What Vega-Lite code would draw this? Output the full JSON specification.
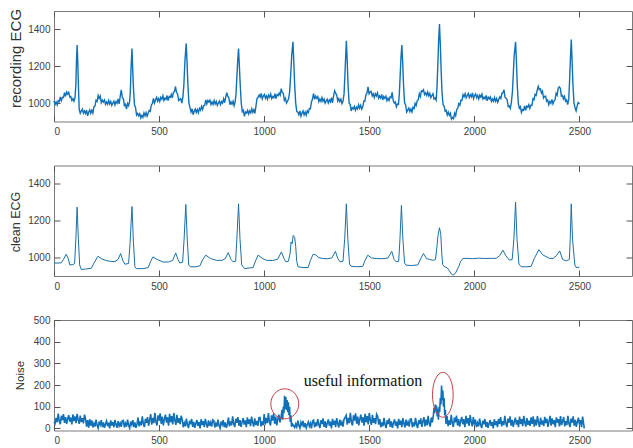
{
"$schema": "https://vega.github.io/schema/vega-lite/v6.json",
"padding": {"left": 7, "top": 7, "right": 0, "bottom": 0},
"background": "white",
"spacing": 43.5,
"bounds": "flush",
"config": {
  "view": {"stroke": "#7a7a7a", "strokeWidth": 1},
  "axis": {"domain": false, "grid": false, "tickSize": -6, "tickColor": "#555555", "tickWidth": 1, "format": "d",
    "labelFont": "Liberation Sans", "labelFontSize": 10, "labelColor": "#404040",
    "titleFont": "Liberation Sans", "titleColor": "#333333", "titleFontWeight": "normal"},
  "axisX": {"labelPadding": 11},
  "axisY": {"labelPadding": 10}
},
"datasets": {
"rec": [
{"x":0,"y":1012},{"x":5,"y":992},{"x":10,"y":1006},{"x":15,"y":990},{"x":20,"y":1013},{"x":25,"y":1008},{"x":30,"y":1033},{"x":35,"y":1013},{"x":40,"y":1031},{"x":45,"y":1030},{"x":50,"y":1057},{"x":55,"y":1036},{"x":60,"y":1060},{"x":65,"y":1049},{"x":70,"y":1058},{"x":75,"y":1033},{"x":80,"y":1036},{"x":85,"y":1014},{"x":90,"y":1024},{"x":95,"y":1010},{"x":100,"y":1029},
{"x":104,"y":1100},{"x":107,"y":1230},{"x":110,"y":1315},{"x":113,"y":1230},{"x":116,"y":1100},{"x":120,"y":965},
{"x":125,"y":945},{"x":130,"y":957},{"x":135,"y":967},{"x":140,"y":945},{"x":145,"y":957},{"x":150,"y":944},{"x":155,"y":962},{"x":160,"y":931},{"x":165,"y":950},{"x":170,"y":963},{"x":175,"y":945},{"x":180,"y":961},{"x":185,"y":946},{"x":190,"y":981},{"x":195,"y":984},{"x":200,"y":1015},{"x":205,"y":1009},{"x":210,"y":1041},{"x":215,"y":1025},{"x":220,"y":1038},{"x":225,"y":1002},{"x":230,"y":1016},{"x":235,"y":1006},{"x":240,"y":1017},{"x":245,"y":993},{"x":250,"y":1006},{"x":255,"y":994},{"x":260,"y":1014},{"x":265,"y":995},{"x":270,"y":1009},{"x":275,"y":987},{"x":280,"y":1000},{"x":285,"y":1011},{"x":290,"y":990},{"x":295,"y":1008},{"x":300,"y":999},{"x":305,"y":1023},{"x":310,"y":996},{"x":315,"y":1037},{"x":320,"y":1072},{"x":325,"y":1031},{"x":330,"y":1024},{"x":335,"y":986},{"x":340,"y":993},{"x":345,"y":967},{"x":350,"y":998},{"x":355,"y":986},{"x":360,"y":1011},
{"x":363,"y":1060},{"x":367,"y":1200},{"x":371,"y":1296},{"x":374,"y":1200},{"x":378,"y":1080},{"x":383,"y":990},
{"x":388,"y":975},{"x":393,"y":935},{"x":398,"y":944},{"x":403,"y":931},{"x":408,"y":942},{"x":413,"y":919},{"x":418,"y":933},{"x":423,"y":923},{"x":428,"y":947},{"x":433,"y":931},{"x":438,"y":948},{"x":443,"y":929},{"x":448,"y":945},{"x":453,"y":960},{"x":458,"y":955},{"x":463,"y":990},{"x":468,"y":997},{"x":473,"y":1026},{"x":478,"y":1000},{"x":483,"y":1018},{"x":488,"y":1031},{"x":493,"y":1011},{"x":498,"y":1025},{"x":503,"y":1008},{"x":508,"y":1031},{"x":513,"y":1021},{"x":518,"y":1040},{"x":523,"y":1014},{"x":528,"y":1027},{"x":533,"y":1020},{"x":538,"y":1041},{"x":543,"y":1014},{"x":548,"y":1036},{"x":553,"y":1031},{"x":558,"y":1047},{"x":563,"y":1028},{"x":568,"y":1058},{"x":573,"y":1062},{"x":578,"y":1090},{"x":583,"y":1057},{"x":588,"y":1049},{"x":593,"y":1014},{"x":598,"y":1020},{"x":603,"y":1024},{"x":608,"y":1000},
{"x":613,"y":1030},{"x":618,"y":1100},{"x":623,"y":1230},{"x":629,"y":1324},{"x":633,"y":1220},{"x":637,"y":1100},{"x":642,"y":1000},
{"x":647,"y":975},{"x":652,"y":952},{"x":657,"y":969},{"x":662,"y":937},{"x":667,"y":955},{"x":672,"y":968},{"x":677,"y":949},{"x":682,"y":965},{"x":687,"y":948},{"x":692,"y":971},{"x":697,"y":961},{"x":702,"y":982},{"x":707,"y":965},{"x":712,"y":986},{"x":717,"y":987},{"x":722,"y":1017},{"x":727,"y":995},{"x":732,"y":1014},{"x":737,"y":1005},{"x":742,"y":1016},{"x":747,"y":992},{"x":752,"y":1006},{"x":757,"y":993},{"x":762,"y":1014},{"x":767,"y":995},{"x":772,"y":1009},{"x":777,"y":987},{"x":782,"y":1000},{"x":787,"y":1011},{"x":792,"y":991},{"x":797,"y":1008},{"x":802,"y":1000},{"x":807,"y":1023},{"x":812,"y":1002},{"x":817,"y":1032},{"x":822,"y":1057},{"x":827,"y":1036},{"x":832,"y":1029},{"x":837,"y":991},{"x":842,"y":1007},{"x":847,"y":994},{"x":852,"y":1010},{"x":857,"y":986},{"x":862,"y":1006},
{"x":866,"y":1050},{"x":870,"y":1140},{"x":874,"y":1230},{"x":878,"y":1296},{"x":882,"y":1200},{"x":886,"y":1100},{"x":891,"y":1000},
{"x":896,"y":953},{"x":901,"y":961},{"x":906,"y":928},{"x":911,"y":951},{"x":916,"y":946},{"x":921,"y":960},{"x":926,"y":941},{"x":931,"y":958},{"x":936,"y":947},{"x":941,"y":969},{"x":946,"y":950},{"x":951,"y":964},{"x":956,"y":944},{"x":961,"y":985},{"x":966,"y":1026},{"x":971,"y":1030},{"x":976,"y":1044},{"x":981,"y":1033},{"x":986,"y":1053},{"x":991,"y":1023},{"x":996,"y":1038},{"x":1001,"y":1047},{"x":1006,"y":1026},{"x":1011,"y":1039},{"x":1016,"y":1021},{"x":1021,"y":1043},{"x":1026,"y":1032},{"x":1031,"y":1050},{"x":1036,"y":1024},{"x":1041,"y":1036},{"x":1046,"y":1029},{"x":1051,"y":1051},{"x":1056,"y":1024},{"x":1061,"y":1046},{"x":1066,"y":1040},{"x":1071,"y":1054},{"x":1076,"y":1043},{"x":1081,"y":1078},{"x":1086,"y":1057},{"x":1091,"y":1054},{"x":1096,"y":1015},{"x":1101,"y":1026},{"x":1106,"y":1000},{"x":1111,"y":1010},{"x":1116,"y":1023},
{"x":1121,"y":1060},{"x":1126,"y":1150},{"x":1131,"y":1260},{"x":1137,"y":1333},{"x":1141,"y":1220},{"x":1145,"y":1100},{"x":1150,"y":1000},
{"x":1155,"y":955},{"x":1160,"y":950},{"x":1165,"y":936},{"x":1170,"y":958},{"x":1175,"y":929},{"x":1180,"y":946},{"x":1185,"y":957},{"x":1190,"y":936},{"x":1195,"y":951},{"x":1200,"y":934},{"x":1205,"y":958},{"x":1210,"y":949},{"x":1215,"y":970},{"x":1220,"y":969},{"x":1225,"y":1006},{"x":1230,"y":1023},{"x":1235,"y":1052},{"x":1240,"y":1020},{"x":1245,"y":1038},{"x":1250,"y":1026},{"x":1255,"y":1035},{"x":1260,"y":1008},{"x":1265,"y":1022},{"x":1270,"y":1009},{"x":1275,"y":1030},{"x":1280,"y":1010},{"x":1285,"y":1022},{"x":1290,"y":999},{"x":1295,"y":1011},{"x":1300,"y":1021},{"x":1305,"y":1001},{"x":1310,"y":1017},{"x":1315,"y":1007},{"x":1320,"y":1029},{"x":1325,"y":1001},{"x":1330,"y":1037},{"x":1335,"y":1067},{"x":1340,"y":1054},{"x":1345,"y":1044},{"x":1350,"y":1011},{"x":1355,"y":1024},{"x":1360,"y":1008},{"x":1365,"y":1021},{"x":1370,"y":997},{"x":1375,"y":1010},
{"x":1380,"y":1050},{"x":1384,"y":1150},{"x":1388,"y":1260},{"x":1391,"y":1338},{"x":1395,"y":1230},{"x":1399,"y":1100},{"x":1404,"y":1000},
{"x":1409,"y":993},{"x":1414,"y":957},{"x":1419,"y":975},{"x":1424,"y":968},{"x":1429,"y":982},{"x":1434,"y":961},{"x":1439,"y":978},{"x":1444,"y":968},{"x":1449,"y":991},{"x":1454,"y":973},{"x":1459,"y":988},{"x":1464,"y":967},{"x":1469,"y":980},{"x":1474,"y":1011},{"x":1479,"y":1010},{"x":1484,"y":1045},{"x":1489,"y":1054},{"x":1494,"y":1088},{"x":1499,"y":1051},{"x":1504,"y":1060},{"x":1509,"y":1064},{"x":1514,"y":1039},{"x":1519,"y":1050},{"x":1524,"y":1030},{"x":1529,"y":1051},{"x":1534,"y":1039},{"x":1539,"y":1055},{"x":1544,"y":1027},{"x":1549,"y":1038},{"x":1554,"y":1028},{"x":1559,"y":1047},{"x":1564,"y":1017},{"x":1569,"y":1036},{"x":1574,"y":1026},{"x":1579,"y":1037},{"x":1584,"y":1013},{"x":1589,"y":1026},{"x":1594,"y":1014},{"x":1599,"y":1034},{"x":1604,"y":1030},{"x":1609,"y":1059},{"x":1614,"y":1012},{"x":1619,"y":1000},{"x":1624,"y":1006},{"x":1629,"y":979},{"x":1634,"y":995},{"x":1639,"y":994},
{"x":1643,"y":1050},{"x":1647,"y":1150},{"x":1651,"y":1250},{"x":1655,"y":1315},{"x":1659,"y":1220},{"x":1663,"y":1100},{"x":1668,"y":1000},
{"x":1673,"y":990},{"x":1678,"y":951},{"x":1683,"y":962},{"x":1688,"y":973},{"x":1693,"y":954},{"x":1698,"y":968},{"x":1703,"y":952},{"x":1708,"y":977},{"x":1713,"y":970},{"x":1718,"y":998},{"x":1723,"y":986},{"x":1728,"y":1012},{"x":1733,"y":1018},{"x":1738,"y":1051},{"x":1743,"y":1035},{"x":1748,"y":1066},{"x":1753,"y":1063},{"x":1758,"y":1072},{"x":1763,"y":1046},{"x":1768,"y":1056},{"x":1773,"y":1042},{"x":1778,"y":1060},{"x":1783,"y":1039},{"x":1788,"y":1052},{"x":1793,"y":1029},{"x":1798,"y":1041},{"x":1803,"y":1051},{"x":1808,"y":1022},{"x":1813,"y":1028},{"x":1818,"y":1016},
{"x":1822,"y":1080},{"x":1826,"y":1200},{"x":1830,"y":1340},{"x":1834,"y":1429},{"x":1838,"y":1320},{"x":1842,"y":1180},{"x":1846,"y":1060},
{"x":1851,"y":992},{"x":1856,"y":984},{"x":1861,"y":956},{"x":1866,"y":961},{"x":1871,"y":935},{"x":1876,"y":951},{"x":1881,"y":933},{"x":1886,"y":945},{"x":1891,"y":913},{"x":1896,"y":922},{"x":1901,"y":915},{"x":1906,"y":945},{"x":1911,"y":931},{"x":1916,"y":966},{"x":1921,"y":971},{"x":1926,"y":997},{"x":1931,"y":988},{"x":1936,"y":1015},{"x":1941,"y":1014},{"x":1946,"y":1046},{"x":1951,"y":1035},{"x":1956,"y":1051},{"x":1961,"y":1029},{"x":1966,"y":1041},{"x":1971,"y":1052},{"x":1976,"y":1030},{"x":1981,"y":1045},{"x":1986,"y":1034},{"x":1991,"y":1055},{"x":1996,"y":1025},{"x":2001,"y":1041},{"x":2006,"y":1050},{"x":2011,"y":1029},{"x":2016,"y":1041},{"x":2021,"y":1022},{"x":2026,"y":1043},{"x":2031,"y":1032},{"x":2036,"y":1049},{"x":2041,"y":1022},{"x":2046,"y":1032},{"x":2051,"y":1023},{"x":2056,"y":1042},{"x":2061,"y":1012},{"x":2066,"y":1032},{"x":2071,"y":1023},{"x":2076,"y":1033},{"x":2081,"y":1009},{"x":2086,"y":1022},{"x":2091,"y":1010},{"x":2096,"y":1030},{"x":2101,"y":1010},{"x":2106,"y":1025},{"x":2111,"y":1004},{"x":2116,"y":1019},{"x":2121,"y":1033},{"x":2126,"y":1025},{"x":2131,"y":1053},{"x":2136,"y":1056},{"x":2141,"y":1072},{"x":2146,"y":1031},{"x":2151,"y":1027},{"x":2156,"y":1017},{"x":2161,"y":981},{"x":2166,"y":984},{"x":2171,"y":971},{"x":2176,"y":1003},
{"x":2181,"y":1060},{"x":2185,"y":1150},{"x":2189,"y":1250},{"x":2196,"y":1333},{"x":2200,"y":1230},{"x":2204,"y":1100},{"x":2209,"y":1000},
{"x":2214,"y":972},{"x":2219,"y":980},{"x":2224,"y":949},{"x":2229,"y":964},{"x":2234,"y":960},{"x":2239,"y":984},{"x":2244,"y":960},{"x":2249,"y":983},{"x":2254,"y":977},{"x":2259,"y":991},{"x":2264,"y":971},{"x":2269,"y":988},{"x":2274,"y":988},{"x":2279,"y":1024},{"x":2284,"y":1019},{"x":2289,"y":1047},{"x":2294,"y":1042},{"x":2299,"y":1070},{"x":2304,"y":1091},{"x":2309,"y":1073},{"x":2314,"y":1077},{"x":2319,"y":1054},{"x":2324,"y":1065},{"x":2329,"y":1027},{"x":2334,"y":1036},{"x":2339,"y":1038},{"x":2344,"y":1010},{"x":2349,"y":1016},{"x":2354,"y":991},{"x":2359,"y":1008},{"x":2364,"y":999},{"x":2369,"y":1020},{"x":2374,"y":996},{"x":2379,"y":1011},{"x":2384,"y":1018},{"x":2389,"y":1053},{"x":2394,"y":1043},{"x":2399,"y":1081},{"x":2404,"y":1088},{"x":2409,"y":1080},{"x":2414,"y":1038},{"x":2419,"y":1041},{"x":2424,"y":1023},{"x":2429,"y":1037},{"x":2434,"y":1010},{"x":2439,"y":1017},{"x":2444,"y":992},
{"x":2449,"y":1020},{"x":2453,"y":1120},{"x":2457,"y":1240},{"x":2461,"y":1345},{"x":2465,"y":1230},{"x":2469,"y":1100},{"x":2474,"y":1000},
{"x":2479,"y":975},{"x":2484,"y":958},{"x":2489,"y":985},{"x":2494,"y":1003},{"x":2500,"y":994}
],
"cln": [
{"x":0,"y":971},{"x":20,"y":970},{"x":35,"y":972},{"x":45,"y":990},{"x":58,"y":1018},{"x":68,"y":995},{"x":75,"y":960},{"x":90,"y":962},{"x":98,"y":968},{"x":104,"y":1100},{"x":110,"y":1274},{"x":116,"y":1100},{"x":122,"y":960},{"x":130,"y":935},{"x":150,"y":938},{"x":178,"y":942},{"x":190,"y":970},{"x":209,"y":1007},{"x":225,"y":995},{"x":245,"y":985},{"x":265,"y":980},{"x":290,"y":978},{"x":305,"y":990},{"x":317,"y":1022},{"x":327,"y":985},{"x":337,"y":964},{"x":355,"y":968},{"x":362,"y":1080},{"x":371,"y":1277},{"x":378,"y":1080},{"x":385,"y":950},{"x":392,"y":940},{"x":420,"y":940},{"x":448,"y":945},{"x":460,"y":980},{"x":471,"y":1004},{"x":490,"y":990},{"x":519,"y":976},{"x":545,"y":976},{"x":565,"y":985},{"x":579,"y":1025},{"x":590,"y":990},{"x":598,"y":971},{"x":612,"y":975},{"x":619,"y":1100},{"x":627,"y":1288},{"x":634,"y":1100},{"x":641,"y":960},{"x":649,"y":950},{"x":675,"y":950},{"x":694,"y":955},{"x":708,"y":990},{"x":722,"y":1013},{"x":745,"y":995},{"x":773,"y":985},{"x":800,"y":985},{"x":815,"y":995},{"x":829,"y":1027},{"x":842,"y":990},{"x":852,"y":977},{"x":864,"y":980},{"x":870,"y":1100},{"x":878,"y":1292},{"x":885,"y":1100},{"x":893,"y":960},{"x":907,"y":940},{"x":930,"y":944},{"x":947,"y":946},{"x":960,"y":985},{"x":971,"y":1013},{"x":990,"y":997},{"x":1011,"y":985},{"x":1040,"y":984},{"x":1065,"y":992},{"x":1082,"y":1031},{"x":1094,"y":995},{"x":1103,"y":977},{"x":1115,"y":980},{"x":1123,"y":1020},{"x":1128,"y":1085},{"x":1133,"y":1075},{"x":1138,"y":1120},{"x":1145,"y":1110},{"x":1150,"y":1060},{"x":1155,"y":980},{"x":1161,"y":950},{"x":1185,"y":946},{"x":1209,"y":946},{"x":1220,"y":985},{"x":1233,"y":1018},{"x":1245,"y":1015},{"x":1260,"y":1000},{"x":1279,"y":995},{"x":1300,"y":994},{"x":1322,"y":998},{"x":1339,"y":1034},{"x":1350,"y":995},{"x":1361,"y":977},{"x":1375,"y":980},{"x":1383,"y":1100},{"x":1391,"y":1292},{"x":1398,"y":1100},{"x":1406,"y":965},{"x":1413,"y":953},{"x":1440,"y":950},{"x":1469,"y":952},{"x":1480,"y":985},{"x":1493,"y":1013},{"x":1510,"y":998},{"x":1533,"y":995},{"x":1560,"y":994},{"x":1588,"y":997},{"x":1607,"y":1034},{"x":1618,"y":990},{"x":1628,"y":977},{"x":1640,"y":980},{"x":1646,"y":1100},{"x":1653,"y":1283},{"x":1660,"y":1100},{"x":1668,"y":970},{"x":1675,"y":959},{"x":1700,"y":957},{"x":1731,"y":960},{"x":1745,"y":995},{"x":1758,"y":1022},{"x":1772,"y":995},{"x":1786,"y":990},{"x":1805,"y":985},{"x":1815,"y":990},{"x":1822,"y":1060},{"x":1827,"y":1120},{"x":1834,"y":1162},{"x":1840,"y":1130},{"x":1845,"y":1020},{"x":1849,"y":962},{"x":1858,"y":950},{"x":1870,"y":945},{"x":1880,"y":930},{"x":1890,"y":912},{"x":1898,"y":905},{"x":1910,"y":915},{"x":1925,"y":950},{"x":1935,"y":980},{"x":1945,"y":995},{"x":1965,"y":996},{"x":1990,"y":994},{"x":2020,"y":997},{"x":2050,"y":995},{"x":2080,"y":996},{"x":2104,"y":996},{"x":2120,"y":1010},{"x":2136,"y":1040},{"x":2150,"y":1010},{"x":2167,"y":986},{"x":2180,"y":990},{"x":2188,"y":1100},{"x":2196,"y":1301},{"x":2203,"y":1100},{"x":2212,"y":965},{"x":2223,"y":950},{"x":2245,"y":950},{"x":2270,"y":952},{"x":2285,"y":995},{"x":2307,"y":1043},{"x":2325,"y":1015},{"x":2358,"y":995},{"x":2375,"y":996},{"x":2390,"y":1010},{"x":2406,"y":1036},{"x":2420,"y":990},{"x":2437,"y":982},{"x":2452,"y":990},{"x":2456,"y":1100},{"x":2461,"y":1292},{"x":2467,"y":1100},{"x":2478,"y":960},{"x":2485,"y":946},{"x":2500,"y":948}
],
"noi": [
{"x":0,"y":30},{"x":5,"y":22},{"x":10,"y":48},{"x":15,"y":28},{"x":20,"y":68},{"x":25,"y":34},{"x":30,"y":19},{"x":35,"y":58},{"x":40,"y":38},{"x":45,"y":66},{"x":50,"y":25},{"x":55,"y":52},{"x":60,"y":20},{"x":65,"y":45},{"x":70,"y":61},{"x":75,"y":31},{"x":80,"y":50},{"x":85,"y":18},{"x":90,"y":64},{"x":95,"y":33},{"x":100,"y":55},{"x":105,"y":24},{"x":110,"y":67},{"x":115,"y":40},{"x":120,"y":21},{"x":125,"y":59},{"x":130,"y":29},{"x":135,"y":47},{"x":140,"y":23},{"x":145,"y":63},
{"x":150,"y":45},{"x":155,"y":8},{"x":160,"y":38},{"x":165,"y":3},{"x":170,"y":42},{"x":175,"y":12},
{"x":180,"y":36},{"x":185,"y":4},{"x":190,"y":22},{"x":195,"y":8},{"x":200,"y":40},{"x":205,"y":14},{"x":210,"y":1},{"x":215,"y":31},{"x":220,"y":17},{"x":225,"y":38},{"x":230,"y":6},{"x":235,"y":27},{"x":240,"y":2},{"x":245,"y":20},{"x":250,"y":34},{"x":255,"y":10},{"x":260,"y":26},{"x":265,"y":0},{"x":270,"y":37},{"x":275,"y":13},{"x":280,"y":29},{"x":285,"y":5},{"x":290,"y":39},{"x":295,"y":18},{"x":300,"y":3},{"x":305,"y":33},{"x":310,"y":11},{"x":315,"y":24},{"x":320,"y":7},{"x":325,"y":35},{"x":330,"y":36},{"x":335,"y":4},{"x":340,"y":22},{"x":345,"y":8},{"x":350,"y":40},{"x":355,"y":14},{"x":360,"y":1},{"x":365,"y":31},{"x":370,"y":17},{"x":375,"y":38},{"x":380,"y":6},{"x":385,"y":27},{"x":390,"y":2},{"x":395,"y":20},
{"x":400,"y":50},{"x":405,"y":9},{"x":410,"y":32},{"x":415,"y":14},{"x":420,"y":55},{"x":425,"y":21},{"x":430,"y":6},{"x":435,"y":44},{"x":440,"y":25},{"x":445,"y":52},{"x":450,"y":12},{"x":455,"y":38},
{"x":460,"y":66},{"x":465,"y":17},{"x":470,"y":48},{"x":475,"y":24},{"x":480,"y":72},{"x":485,"y":30},{"x":490,"y":13},{"x":495,"y":60},{"x":500,"y":36},{"x":505,"y":69},{"x":510,"y":21},{"x":515,"y":54},{"x":520,"y":14},{"x":525,"y":42},{"x":530,"y":63},{"x":535,"y":27},{"x":540,"y":51},{"x":545,"y":12},{"x":550,"y":67},{"x":555,"y":28},{"x":560,"y":57},{"x":565,"y":18},{"x":570,"y":71},{"x":575,"y":37},{"x":580,"y":16},{"x":585,"y":62},{"x":590,"y":25},{"x":595,"y":47},{"x":600,"y":19},{"x":605,"y":58},
{"x":610,"y":40},{"x":615,"y":5},{"x":620,"y":25},{"x":625,"y":9},{"x":630,"y":45},{"x":635,"y":16},{"x":640,"y":1},{"x":645,"y":35},{"x":650,"y":19},{"x":655,"y":43},{"x":660,"y":7},{"x":665,"y":30},{"x":670,"y":2},{"x":675,"y":22},{"x":680,"y":38},{"x":685,"y":11},{"x":690,"y":29},{"x":695,"y":0},{"x":700,"y":42},{"x":705,"y":15},{"x":710,"y":33},{"x":715,"y":6},{"x":720,"y":44},{"x":725,"y":20},{"x":730,"y":3},{"x":735,"y":37},{"x":740,"y":12},{"x":745,"y":27},{"x":750,"y":8},{"x":755,"y":39},{"x":760,"y":36},{"x":765,"y":4},{"x":770,"y":22},{"x":775,"y":8},{"x":780,"y":40},{"x":785,"y":14},{"x":790,"y":1},{"x":795,"y":31},{"x":800,"y":17},{"x":805,"y":38},{"x":810,"y":6},{"x":815,"y":27},{"x":820,"y":2},{"x":825,"y":20},
{"x":830,"y":50},{"x":835,"y":9},{"x":840,"y":32},{"x":845,"y":14},{"x":850,"y":55},{"x":855,"y":21},{"x":860,"y":6},{"x":865,"y":44},{"x":870,"y":25},{"x":875,"y":52},{"x":880,"y":12},{"x":885,"y":38},{"x":890,"y":7},{"x":895,"y":30},{"x":900,"y":47},{"x":905,"y":17},{"x":910,"y":37},{"x":915,"y":5},{"x":920,"y":51},{"x":925,"y":20},{"x":930,"y":41},{"x":935,"y":10},{"x":940,"y":54},{"x":945,"y":26},{"x":950,"y":8},{"x":955,"y":46},{"x":960,"y":15},{"x":965,"y":34},{"x":970,"y":11},{"x":975,"y":49},{"x":980,"y":50},{"x":985,"y":9},{"x":990,"y":32},{"x":995,"y":14},
{"x":1000,"y":66},{"x":1005,"y":17},{"x":1010,"y":48},{"x":1015,"y":24},{"x":1020,"y":70},{"x":1025,"y":30},{"x":1030,"y":13},{"x":1035,"y":60},{"x":1040,"y":36},{"x":1045,"y":69},{"x":1050,"y":21},{"x":1055,"y":54},{"x":1060,"y":14},{"x":1065,"y":42},{"x":1070,"y":63},{"x":1075,"y":27},{"x":1080,"y":51},
{"x":1085,"y":85},{"x":1088,"y":40},{"x":1091,"y":100},{"x":1094,"y":70},{"x":1097,"y":150},{"x":1100,"y":90},{"x":1103,"y":145},{"x":1106,"y":85},{"x":1109,"y":130},{"x":1112,"y":75},{"x":1115,"y":120},{"x":1118,"y":60},{"x":1121,"y":100},{"x":1124,"y":30},{"x":1127,"y":60},{"x":1130,"y":8},{"x":1135,"y":20},
{"x":1140,"y":12},{"x":1145,"y":4},{"x":1150,"y":20},{"x":1155,"y":7},{"x":1160,"y":36},{"x":1165,"y":13},{"x":1170,"y":1},{"x":1175,"y":28},{"x":1180,"y":15},{"x":1185,"y":34},{"x":1190,"y":5},{"x":1195,"y":24},{"x":1200,"y":2},{"x":1205,"y":18},{"x":1210,"y":30},{"x":1215,"y":9},{"x":1220,"y":23},{"x":1225,"y":0},{"x":1230,"y":33},
{"x":1235,"y":38},{"x":1240,"y":5},{"x":1245,"y":27},{"x":1250,"y":10},{"x":1255,"y":42},{"x":1260,"y":17},{"x":1265,"y":1},{"x":1270,"y":37},{"x":1275,"y":20},{"x":1280,"y":46},{"x":1285,"y":7},{"x":1290,"y":32},{"x":1295,"y":2},{"x":1300,"y":24},{"x":1305,"y":41},{"x":1310,"y":12},{"x":1315,"y":31},{"x":1320,"y":0},{"x":1325,"y":44},{"x":1330,"y":16},{"x":1335,"y":35},{"x":1340,"y":6},{"x":1345,"y":47},{"x":1350,"y":22},{"x":1355,"y":4},{"x":1360,"y":40},{"x":1365,"y":13},{"x":1370,"y":29},{"x":1375,"y":8},{"x":1380,"y":42},{"x":1385,"y":50},
{"x":1390,"y":60},{"x":1395,"y":17},{"x":1400,"y":48},{"x":1405,"y":24},{"x":1410,"y":72},{"x":1415,"y":30},{"x":1420,"y":13},{"x":1425,"y":60},{"x":1430,"y":36},{"x":1435,"y":69},{"x":1440,"y":21},{"x":1445,"y":54},{"x":1450,"y":14},{"x":1455,"y":42},{"x":1460,"y":63},{"x":1465,"y":27},{"x":1470,"y":51},{"x":1475,"y":12},{"x":1480,"y":67},{"x":1485,"y":28},{"x":1490,"y":57},{"x":1495,"y":18},{"x":1500,"y":71},{"x":1505,"y":37},{"x":1510,"y":16},{"x":1515,"y":62},{"x":1520,"y":25},{"x":1525,"y":47},{"x":1530,"y":19},{"x":1535,"y":65},{"x":1540,"y":56},{"x":1545,"y":17},
{"x":1550,"y":43},{"x":1555,"y":5},{"x":1560,"y":27},{"x":1565,"y":10},{"x":1570,"y":48},{"x":1575,"y":17},{"x":1580,"y":1},{"x":1585,"y":37},{"x":1590,"y":20},{"x":1595,"y":46},{"x":1600,"y":7},{"x":1605,"y":32},{"x":1610,"y":2},{"x":1615,"y":24},{"x":1620,"y":41},{"x":1625,"y":12},{"x":1630,"y":31},{"x":1635,"y":0},{"x":1640,"y":44},{"x":1645,"y":16},{"x":1650,"y":35},{"x":1655,"y":6},{"x":1660,"y":47},{"x":1665,"y":22},{"x":1670,"y":4},{"x":1675,"y":40},{"x":1680,"y":13},{"x":1685,"y":29},{"x":1690,"y":8},{"x":1695,"y":42},{"x":1700,"y":43},{"x":1705,"y":5},{"x":1710,"y":27},{"x":1715,"y":10},{"x":1720,"y":48},{"x":1725,"y":17},{"x":1730,"y":1},{"x":1735,"y":37},{"x":1740,"y":20},{"x":1745,"y":46},{"x":1750,"y":7},{"x":1755,"y":32},
{"x":1760,"y":52},{"x":1765,"y":9},{"x":1770,"y":40},{"x":1775,"y":14},{"x":1780,"y":58},{"x":1785,"y":22},{"x":1790,"y":8},{"x":1795,"y":50},{"x":1800,"y":28},
{"x":1805,"y":60},{"x":1808,"y":95},{"x":1811,"y":70},{"x":1814,"y":110},{"x":1817,"y":80},{"x":1820,"y":105},{"x":1823,"y":55},{"x":1826,"y":90},{"x":1829,"y":40},{"x":1832,"y":100},{"x":1835,"y":75},{"x":1838,"y":140},{"x":1841,"y":110},{"x":1844,"y":197},{"x":1847,"y":130},{"x":1850,"y":175},{"x":1853,"y":100},{"x":1856,"y":140},{"x":1859,"y":60},{"x":1862,"y":85},{"x":1865,"y":20},
{"x":1870,"y":56},{"x":1875,"y":10},{"x":1880,"y":37},{"x":1885,"y":16},{"x":1890,"y":62},{"x":1895,"y":24},{"x":1900,"y":6},{"x":1905,"y":50},{"x":1910,"y":28},{"x":1915,"y":59},{"x":1920,"y":13},{"x":1925,"y":43},{"x":1930,"y":8},{"x":1935,"y":34},{"x":1940,"y":53},{"x":1945,"y":19},{"x":1950,"y":42},{"x":1955,"y":5},{"x":1960,"y":58},{"x":1965,"y":22},{"x":1970,"y":47},{"x":1975,"y":11},{"x":1980,"y":61},{"x":1985,"y":30},{"x":1990,"y":9},{"x":1995,"y":52},{"x":2000,"y":17},
{"x":2005,"y":40},{"x":2010,"y":5},{"x":2015,"y":25},{"x":2020,"y":9},{"x":2025,"y":45},{"x":2030,"y":16},{"x":2035,"y":1},{"x":2040,"y":35},{"x":2045,"y":19},{"x":2050,"y":43},{"x":2055,"y":7},{"x":2060,"y":30},{"x":2065,"y":2},{"x":2070,"y":22},{"x":2075,"y":38},{"x":2080,"y":11},{"x":2085,"y":29},{"x":2090,"y":0},{"x":2095,"y":42},{"x":2100,"y":15},{"x":2105,"y":33},{"x":2110,"y":6},{"x":2115,"y":44},{"x":2120,"y":20},
{"x":2125,"y":52},{"x":2130,"y":9},{"x":2135,"y":33},{"x":2140,"y":15},{"x":2145,"y":58},{"x":2150,"y":22},{"x":2155,"y":6},{"x":2160,"y":45},{"x":2165,"y":26},{"x":2170,"y":55},{"x":2175,"y":12},{"x":2180,"y":39},{"x":2185,"y":7},{"x":2190,"y":31},{"x":2195,"y":49},{"x":2200,"y":17},{"x":2205,"y":38},{"x":2210,"y":5},{"x":2215,"y":54},{"x":2220,"y":20},{"x":2225,"y":42},{"x":2230,"y":10},{"x":2235,"y":57},{"x":2240,"y":27},{"x":2245,"y":8},{"x":2250,"y":47},{"x":2255,"y":16},{"x":2260,"y":35},{"x":2265,"y":11},{"x":2270,"y":51},
{"x":2275,"y":20},{"x":2280,"y":55},{"x":2285,"y":8},{"x":2290,"y":40},{"x":2295,"y":14},{"x":2300,"y":57},{"x":2305,"y":28},{"x":2310,"y":6},{"x":2315,"y":49},{"x":2320,"y":17},{"x":2325,"y":36},{"x":2330,"y":10},{"x":2335,"y":53},{"x":2340,"y":24},{"x":2345,"y":44},{"x":2350,"y":7},{"x":2355,"y":31},{"x":2360,"y":58},{"x":2365,"y":12},{"x":2370,"y":46},{"x":2375,"y":19},{"x":2380,"y":38},{"x":2385,"y":5},{"x":2390,"y":51},{"x":2395,"y":26},{"x":2400,"y":42},{"x":2405,"y":9},{"x":2410,"y":56},{"x":2415,"y":15},{"x":2420,"y":33},
{"x":2425,"y":52},{"x":2430,"y":9},{"x":2435,"y":33},{"x":2440,"y":15},{"x":2445,"y":58},{"x":2450,"y":22},{"x":2455,"y":6},{"x":2460,"y":45},{"x":2465,"y":26},{"x":2470,"y":55},{"x":2475,"y":12},{"x":2480,"y":39},{"x":2485,"y":7},{"x":2490,"y":31},{"x":2495,"y":49},{"x":2500,"y":17},{"x":2505,"y":38},{"x":2510,"y":5},{"x":2515,"y":54},{"x":2520,"y":20},{"x":2523,"y":0}
]
},
"vconcat": [
{
  "width": 578, "height": 110.5,
  "data": {"name": "rec"},
  "layer": [
    {"mark": {"type": "line", "color": "#1070b8", "strokeWidth": 1.4},
     "encoding": {
       "x": {"field": "x", "type": "quantitative", "scale": {"domain": [0, 2750], "nice": false, "zero": false}, "axis": {"values": [0,500,1000,1500,2000,2500], "title": null}},
       "y": {"field": "y", "type": "quantitative", "scale": {"domain": [900, 1500], "nice": false, "zero": false}, "axis": {"values": [1000,1200,1400], "title": "recording ECG", "titleFontSize": 15, "titleX": -39, "titleY": 47, "titleAngle": 270, "titleAlign": "center", "titleBaseline": "middle"}}
     }},
    {"mark": {"type": "line", "opacity": 0},
     "encoding": {
       "x": {"field": "x", "type": "quantitative", "axis": {"orient": "top", "values": [0,500,1000,1500,2000,2500], "labels": false, "title": null}},
       "y": {"field": "y", "type": "quantitative", "axis": {"orient": "right", "values": [1000,1200,1400], "labels": false, "title": null}}
     }}
  ],
  "resolve": {"axis": {"x": "independent", "y": "independent"}}
},
{
  "width": 578, "height": 110.5,
  "data": {"name": "cln"},
  "layer": [
    {"mark": {"type": "line", "color": "#1a6fa8", "strokeWidth": 1},
     "encoding": {
       "x": {"field": "x", "type": "quantitative", "scale": {"domain": [0, 2750], "nice": false, "zero": false}, "axis": {"values": [0,500,1000,1500,2000,2500], "title": null}},
       "y": {"field": "y", "type": "quantitative", "scale": {"domain": [900, 1500], "nice": false, "zero": false}, "axis": {"values": [1000,1200,1400], "title": "clean ECG", "titleFontSize": 12.5, "titleX": -39, "titleY": 56, "titleAngle": 270, "titleAlign": "center", "titleBaseline": "middle"}}
     }},
    {"mark": {"type": "line", "opacity": 0},
     "encoding": {
       "x": {"field": "x", "type": "quantitative", "axis": {"orient": "top", "values": [0,500,1000,1500,2000,2500], "labels": false, "title": null}},
       "y": {"field": "y", "type": "quantitative", "axis": {"orient": "right", "values": [1000,1200,1400], "labels": false, "title": null}}
     }}
  ],
  "resolve": {"axis": {"x": "independent", "y": "independent"}}
},
{
  "width": 578, "height": 110.5,
  "data": {"name": "noi"},
  "layer": [
    {"mark": {"type": "line", "color": "#1070b8", "strokeWidth": 1.6},
     "encoding": {
       "x": {"field": "x", "type": "quantitative", "scale": {"domain": [0, 2750], "nice": false, "zero": false}, "axis": {"values": [0,500,1000,1500,2000,2500], "title": null}},
       "y": {"field": "y", "type": "quantitative", "scale": {"domain": [-10, 500], "nice": false, "zero": false}, "axis": {"values": [0,100,200,300,400,500], "title": "Noise", "titleFontSize": 11.5, "titleX": -34, "titleY": 55, "titleAngle": 270, "titleAlign": "center", "titleBaseline": "middle"}}
     }},
    {"mark": {"type": "line", "opacity": 0},
     "encoding": {
       "x": {"field": "x", "type": "quantitative", "axis": {"orient": "top", "values": [0,500,1000,1500,2000,2500], "labels": false, "title": null}},
       "y": {"field": "y", "type": "quantitative", "axis": {"orient": "right", "values": [0,100,200,300,400,500], "labels": false, "title": null}}
     }},
    {"data": {"values": [{}]},
     "mark": {"type": "text", "font": "Liberation Serif", "fontSize": 16, "color": "#111111", "align": "center", "baseline": "alphabetic"},
     "encoding": {
       "x": {"datum": 1470, "type": "quantitative", "axis": null},
       "y": {"datum": 197, "type": "quantitative", "axis": null},
       "text": {"value": "useful information"}
     }},
    {"data": {"values": [{}]},
     "mark": {"type": "point", "shape": "M-0.93,0A0.93,1,0,1,0,0.93,0A0.93,1,0,1,0,-0.93,0Z", "size": 900, "filled": false, "stroke": "#c8414b", "strokeWidth": 1, "opacity": 1},
     "encoding": {
       "x": {"datum": 1098, "type": "quantitative", "axis": null},
       "y": {"datum": 113, "type": "quantitative", "axis": null}
     }},
    {"data": {"values": [{}]},
     "mark": {"type": "point", "shape": "M-0.46,0A0.46,1,0,1,0,0.46,0A0.46,1,0,1,0,-0.46,0Z", "size": 2025, "filled": false, "stroke": "#c8414b", "strokeWidth": 1, "opacity": 1},
     "encoding": {
       "x": {"datum": 1850, "type": "quantitative", "axis": null},
       "y": {"datum": 155, "type": "quantitative", "axis": null}
     }}
  ],
  "resolve": {"axis": {"x": "independent", "y": "independent"}}
}
]
}
